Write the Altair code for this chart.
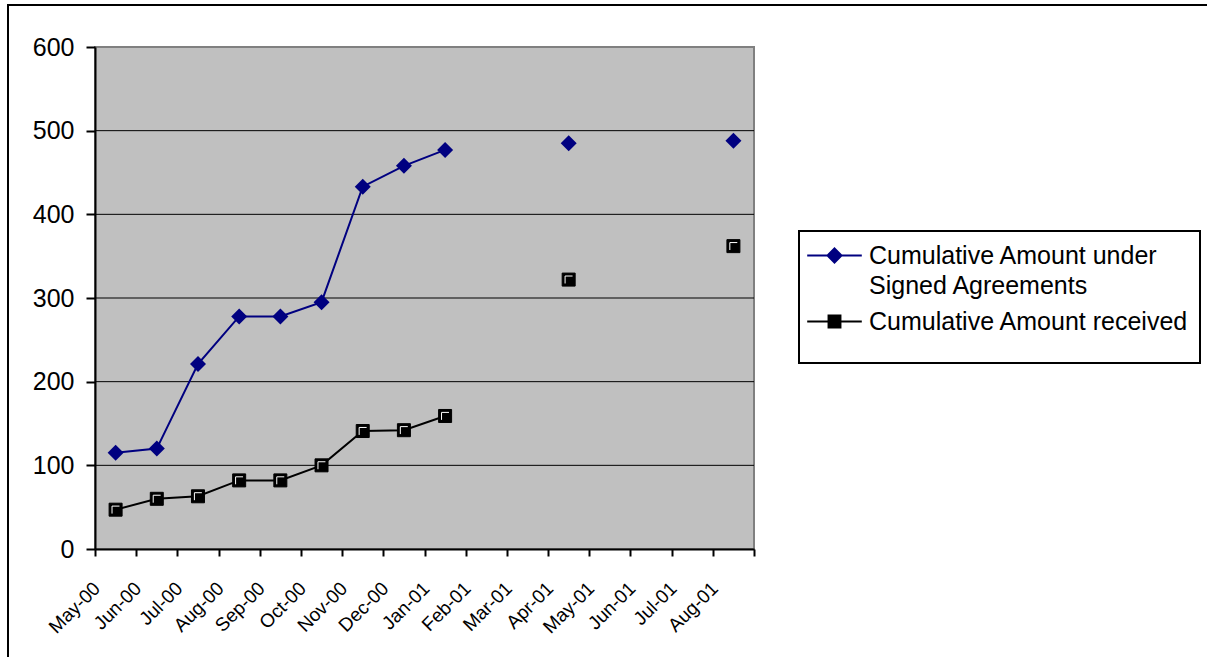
import altair as alt
import pandas as pd

months = ["May-00", "Jun-00", "Jul-00", "Aug-00", "Sep-00", "Oct-00", "Nov-00", "Dec-00",
          "Jan-01", "Feb-01", "Mar-01", "Apr-01", "May-01", "Jun-01", "Jul-01", "Aug-01"]
signed = [115, 120, 221, 278, 278, 295, 433, 458, 477, None, None, 485, None, None, None, 488]
received = [47, 60, 63, 82, 82, 100, 141, 142, 159, None, None, 322, None, None, None, 362]
series_names = ["Cumulative Amount under Signed Agreements", "Cumulative Amount received"]
y_ticks = [0, 100, 200, 300, 400, 500, 600]
grid_values = [100, 200, 300, 400, 500]

NAVY = "#000080"
FONT = "Liberation Sans"

rows = []
for name, vals in zip(series_names, [signed, received]):
    seg = 0
    for m, v in zip(months, vals):
        if v is None:
            seg += 1
            continue
        rows.append({"month": m, "series": name, "value": v, "seg": seg})
df = pd.DataFrame(rows)

x_enc = alt.X("month:O", sort=months,
              scale=alt.Scale(type="band", domain=months, paddingInner=0, paddingOuter=0),
              axis=alt.Axis(title=None, tickBand="extent", labelAngle=-45, grid=False))
y_enc = alt.Y("value:Q", scale=alt.Scale(domain=[0, 600], nice=False, zero=True),
              axis=alt.Axis(title=None, values=y_ticks, grid=False))

one = pd.DataFrame({"value": [0]})

outer_border = alt.Chart(one).mark_rect(fill="white", fillOpacity=0, stroke="black",
                                        strokeWidth=2).encode(
    x=alt.value(-87), x2=alt.value(1140), y=alt.value(-42), y2=alt.value(640))

legend_box = alt.Chart(one).mark_rect(fill="white", stroke="black", strokeWidth=2).encode(
    x=alt.value(704), x2=alt.value(1105), y=alt.value(184), y2=alt.value(316))

grid = alt.Chart(pd.DataFrame({"value": grid_values})).mark_rule(
    color="black", strokeWidth=1).encode(y=y_enc)

base = alt.Chart(df)
signed_df = base.transform_filter(alt.datum.series == series_names[0])
recv_df = base.transform_filter(alt.datum.series == series_names[1])

line_s = signed_df.mark_line(color=NAVY, strokeWidth=2).encode(
    x=x_enc, y=y_enc, detail="seg:N")
line_r = recv_df.mark_line(color="black", strokeWidth=2).encode(
    x=x_enc, y=y_enc, detail="seg:N")
pts_s = signed_df.mark_point(shape="diamond", filled=True, size=256, color=NAVY,
                             opacity=1).encode(x=x_enc, y=y_enc)
pts_r = recv_df.mark_point(shape="square", filled=True, size=169, fill="black",
                           stroke="black", strokeWidth=1, opacity=1).encode(x=x_enc, y=y_enc)
pts_r_hi = recv_df.mark_point(shape="M-0.55,0.6V-0.55H0.6", filled=False, size=169,
                              stroke="white", strokeWidth=1, opacity=1).encode(x=x_enc, y=y_enc)

diamond_path = "M-3.9,0H3.9M0,-1L1,0L0,1L-1,0Z"
square_path = "M-3.9,0H3.9M-0.85,-0.85H0.85V0.85H-0.85Z"
leg = alt.Legend(title=None, orient="none", legendX=727, legendY=196, padding=0,
                 labelFont=FONT, labelFontSize=25, labelColor="black", labelLimit=600,
                 labelOffset=22, symbolSize=196, symbolStrokeWidth=2, rowPadding=10,
                 labelExpr="datum.label == 'Cumulative Amount under Signed Agreements' ? "
                           "['Cumulative Amount under', 'Signed Agreements'] : datum.label")
legend_layer = base.transform_filter("false").mark_point(filled=True, size=196, opacity=1).encode(
    x=x_enc, y=y_enc,
    fill=alt.Fill("series:N", scale=alt.Scale(domain=series_names, range=[NAVY, "black"]), legend=leg),
    stroke=alt.Stroke("series:N", scale=alt.Scale(domain=series_names, range=[NAVY, "black"]), legend=leg),
    shape=alt.Shape("series:N", scale=alt.Scale(domain=series_names, range=[diamond_path, square_path]), legend=leg),
)

chart = alt.layer(outer_border, legend_box, grid, line_s, line_r, pts_s, pts_r, pts_r_hi,
                  legend_layer).properties(
    width=659, height=502,
    padding={"left": 95, "top": 47, "right": 453, "bottom": 108},
    autosize=alt.AutoSizeParams(type="none"),
    background="white",
).configure(
    style={"guide-label": {"lineHeight": 30}}
).configure_view(
    fill="#C0C0C0", stroke="#808080", strokeWidth=2
).configure_axisX(
    labelAngle=-45, labelAlign="right", labelBaseline="middle", labelOffset=-19,
    labelPadding=29, labelFont=FONT, labelFontSize=19, labelColor="black",
    tickColor="black", tickSize=7, tickWidth=2, domainColor="black", domainWidth=2,
    grid=False, labelOverlap=False
).configure_axisY(
    labelFont=FONT, labelFontSize=25, labelColor="black", labelPadding=12,
    tickColor="black", tickSize=9, tickWidth=2, domainColor="black", domainWidth=2,
    grid=False
)

chart.save("out.html", embed_options={"renderer": "svg", "actions": False})
